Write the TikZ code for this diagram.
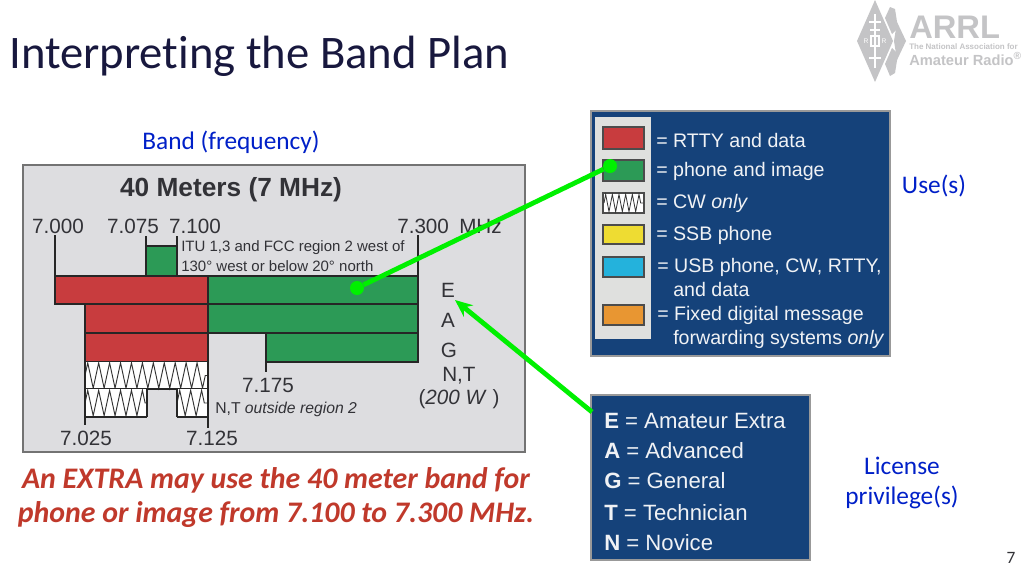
\documentclass[tikz,border=0pt]{standalone}
\usepackage{fontspec}
\setmainfont[Ligatures=NoCommon]{Carlito}
\newfontfamily\arialfont{Liberation Sans}
\definecolor{titlenavy}{RGB}{24, 24, 62}
\definecolor{labelblue}{RGB}{0, 32, 200}
\definecolor{noteRed}{RGB}{192, 57, 43}
\definecolor{panelgray}{RGB}{221, 221, 224}
\definecolor{inkgray}{RGB}{50, 50, 55}
\definecolor{rttyred}{RGB}{200, 60, 62}
\definecolor{phonegreen}{RGB}{44, 154, 86}
\definecolor{legendblue}{RGB}{21, 66, 122}
\definecolor{legendwhite}{RGB}{240, 242, 245}
\definecolor{swatchback}{RGB}{223, 224, 222}
\definecolor{ssbyellow}{RGB}{238, 220, 50}
\definecolor{usbcyan}{RGB}{36, 178, 220}
\definecolor{digiorange}{RGB}{232, 150, 50}
\definecolor{pointergreen}{RGB}{0, 240, 0}
\definecolor{logogray}{RGB}{196, 196, 198}
\usetikzlibrary{arrows.meta, positioning, decorations.pathmorphing}
\tikzset{
  bandink/.style={draw=black!85, line width=1.5pt},
  chartnum/.style={font=\arialfont\fontsize{15.5}{15.5}\selectfont, text=inkgray, inner sep=0pt},
  chartnote/.style={font=\arialfont\fontsize{11.25}{11.25}\selectfont, text=inkgray, inner sep=0pt, anchor=west},
  legendtext/.style={font=\arialfont\fontsize{14.7}{14.7}\selectfont, text=legendwhite, inner sep=0pt, anchor=west},
  classtext/.style={font=\arialfont\fontsize{16.6}{16.6}\selectfont, text=legendwhite, inner sep=0pt, anchor=west},
  sidelabel/.style={font=\fontsize{19}{19}\selectfont, text=labelblue, inner sep=0pt},
  swatch/.style={draw=black!70, line width=1pt},
  cwwave/.style={draw=black!80, line width=0.7pt, decorate, decoration={zigzag, segment length=8.2pt, amplitude=9.5pt}},
  pointer/.style={draw=pointergreen, line width=3.6pt},
  pointerdot/.style={circle, fill=pointergreen, inner sep=0pt, minimum size=10.5pt},
  logotext/.style={text=logogray, inner sep=0pt, anchor=west}
}

\begin{document}
\begin{tikzpicture}[x=0.75pt, y=-0.75pt]
  \useasboundingbox (0, 0) rectangle (1024, 576);
  \fill[white] (0, 0) rectangle (1024, 576);

  % Title and page number
  \node[font=\fontsize{35}{35}\selectfont, text=titlenavy, inner sep=0pt, anchor=west] (slidetitle) at (9, 56) {Interpreting the Band Plan};
  \node[font=\fontsize{13}{13}\selectfont, text=inkgray, inner sep=0pt] (pagenum) at (1011, 558) {7};

  % Logo
  \fill[logogray] (875, 0) -- (893, 41) -- (875, 82) -- (857, 41) -- cycle;
  \fill[logogray] (890, 7) -- (895, 9) -- (898, 28) -- (892, 34) -- (885, 18) -- cycle;
  \fill[logogray] (897, 22) -- (906, 41) -- (897, 60) -- (894, 41) -- cycle;
  \fill[logogray] (892, 48) -- (898, 54) -- (895, 73) -- (890, 76) -- (885, 64) -- cycle;
  \draw[white, line width=0.8pt] (875, 14) -- (875, 68) (869, 22) -- (881, 22) (870, 30) -- (880, 30) (869, 58) -- (881, 58);
  \draw[white, line width=0.8pt] (871, 36) rectangle (879, 46);
  \node[font=\arialfont\fontsize{5}{5}\selectfont, text=white, inner sep=0pt] (logoleft) at (866, 41) {R};
  \node[font=\arialfont\fontsize{5}{5}\selectfont, text=white, inner sep=0pt] (logoright) at (884, 41) {R};
  \node[logotext, font=\arialfont\bfseries\fontsize{24.5}{24.5}\selectfont] (logoname) at (909, 27) {ARRL};
  \node[logotext, font=\arialfont\bfseries\fontsize{6}{6}\selectfont] (logoline) at (909, 47) {The National Association for};
  \node[logotext, font=\arialfont\bfseries\fontsize{11}{11}\selectfont] (logoradio) at (909, 59) {Amateur Radio\textsuperscript{\textregistered}};

  % Band chart
  \node[sidelabel] (bandlabel) at (231, 142) {Band (frequency)};
  \draw[draw=black!55, line width=1pt, fill=panelgray] (23, 165) rectangle (525, 452);
  \node[font=\arialfont\bfseries\fontsize{19.7}{19.7}\selectfont, text=inkgray, inner sep=0pt] (charttitle) at (231, 190) {40 Meters (7 MHz)};
  \node[chartnum] (f7000) at (58, 226) {7.000};
  \node[chartnum] (f7075) at (133, 226) {7.075};
  \node[chartnum] (f7100) at (195, 226) {7.100};
  \node[chartnum, anchor=west] (f7300) at (397, 226) {7.300};
  \node[chartnum, anchor=west] (fmhz) at (459, 226) {MHz};
  \node[chartnote] (itunote) at (181, 248) {ITU 1,3 and FCC region 2 west of};
  \node[chartnote] (itunotetwo) at (181, 266) {130° west or below 20° north};

  % Band blocks
  \draw[bandink, fill=phonegreen] (146, 246) rectangle (177, 276);
  \draw[bandink, fill=rttyred] (55, 276) rectangle (208, 304);
  \draw[bandink, fill=phonegreen] (208, 276) rectangle (418, 304);
  \draw[bandink, fill=rttyred] (85, 304) rectangle (208, 333);
  \draw[bandink, fill=phonegreen] (208, 304) rectangle (418, 333);
  \draw[bandink, fill=rttyred] (85, 333) rectangle (208, 362);
  \draw[bandink, fill=phonegreen] (266, 333) rectangle (418, 362);
  \fill[white] (85, 362) rectangle (208, 389);
  \draw[cwwave] (85, 375.5) -- (208, 375.5);
  \draw[bandink, line width=1pt] (85, 389) -- (208, 389);
  \fill[white] (85, 389) rectangle (147, 417);
  \draw[cwwave] (85, 403) -- (147, 403);
  \fill[white] (177, 389) rectangle (208, 417);
  \draw[cwwave] (177, 403) -- (208, 403);
  \draw[bandink, line width=1pt] (85, 417) -- (147, 417) (177, 417) -- (208, 417);
  \draw[bandink, line width=1pt] (147, 389) -- (147, 417) (177, 389) -- (177, 417);

  % Edge ticks
  \draw[bandink] (55, 235) -- (55, 276);
  \draw[bandink] (146, 236) -- (146, 246);
  \draw[bandink] (177, 236) -- (177, 246);
  \draw[bandink] (418, 235) -- (418, 276);
  \draw[bandink] (85, 362) -- (85, 425);
  \draw[bandink] (208, 362) -- (208, 428);
  \draw[bandink, line width=1pt] (266, 362) -- (266, 372);

  % Chart labels
  \node[chartnum] (f7175) at (268, 385) {7.175};
  \node[chartnote, font=\arialfont\fontsize{11.8}{11.8}\selectfont] (ntnote) at (215, 409) {N,T \textit{outside region 2}};
  \node[chartnum] (f7025) at (86, 438) {7.025};
  \node[chartnum] (f7125) at (212, 438) {7.125};
  \node[chartnum] (classE) at (448, 290) {E};
  \node[chartnum] (classA) at (448, 320) {A};
  \node[chartnum] (classG) at (449, 350) {G};
  \node[chartnum, anchor=west] (classNT) at (442, 376) {N,T};
  \node[chartnum, anchor=center] (classW) at (459, 399) {(\textit{200 W} )};

  % Red note
  \node[font=\bfseries\itshape\fontsize{22.4}{22.4}\selectfont, text=noteRed, inner sep=0pt] (noteone) at (276, 480) {An EXTRA may use the 40 meter band for};
  \node[font=\bfseries\itshape\fontsize{22.4}{22.4}\selectfont, text=noteRed, inner sep=0pt] (notetwo) at (276, 515) {phone or image from 7.100 to 7.300 MHz.};

  % Use legend
  \draw[draw=black!40, line width=0.8pt, fill=legendblue] (591, 111) rectangle (890, 356);
  \fill[swatchback] (595, 117) rectangle (651, 339);
  \draw[swatch, fill=rttyred] (603, 127) rectangle (644, 149);
  \draw[swatch, fill=phonegreen] (603, 160) rectangle (644, 181);
  \draw[swatch, fill=white] (603, 193) rectangle (644, 213);
  \draw[cwwave, line width=0.6pt, decoration={segment length=5pt, amplitude=6.5pt}] (604, 203) -- (643, 203);
  \draw[swatch, fill=ssbyellow] (603, 225) rectangle (644, 244);
  \draw[swatch, fill=usbcyan] (603, 257) rectangle (644, 277);
  \draw[swatch, fill=digiorange] (603, 305) rectangle (644, 325);
  \node[legendtext] (userow1) at (656, 140) {= RTTY and data};
  \node[legendtext] (userow2) at (656, 171) {= phone and image};
  \node[legendtext] (userow3) at (656, 203) {= CW \textit{only}};
  \node[legendtext] (userow4) at (656, 235) {= SSB phone};
  \node[legendtext] (userow5) at (657, 267) {= USB phone, CW, RTTY,};
  \node[legendtext] (userow5b) at (673, 289) {and  data};
  \node[legendtext] (userow6) at (657, 315) {= Fixed digital message};
  \node[legendtext] (userow6b) at (673, 339) {forwarding systems \textit{only}};
  \node[sidelabel] (uselabel) at (934, 186) {Use(s)};

  % Licence legend
  \draw[draw=black!40, line width=0.8pt, fill=legendblue] (591, 395) rectangle (810, 560);
  \node[classtext] (licrow1) at (604, 421) {\textbf{E} = Amateur Extra};
  \node[classtext] (licrow2) at (604, 451) {\textbf{A} = Advanced};
  \node[classtext] (licrow3) at (604, 481) {\textbf{G} = General};
  \node[classtext] (licrow4) at (604, 513) {\textbf{T} = Technician};
  \node[classtext] (licrow5) at (604, 543) {\textbf{N} = Novice};
  \node[sidelabel] (liclabel) at (902, 466) {License};
  \node[sidelabel] (liclabeltwo) at (902, 497) {privilege(s)};

  % Pointers
  \node[pointerdot] (dotband) at (357, 288) {};
  \node[pointerdot] (dotswatch) at (610, 166) {};
  \draw[pointer] (dotband) -- (dotswatch);
  \coordinate (licstart) at (592, 412);
  \coordinate (extratip) at (455, 300);
  \draw[pointer, -{Stealth[length=13pt, width=11pt]}] (licstart) -- (extratip);
\end{tikzpicture}
\end{document}
